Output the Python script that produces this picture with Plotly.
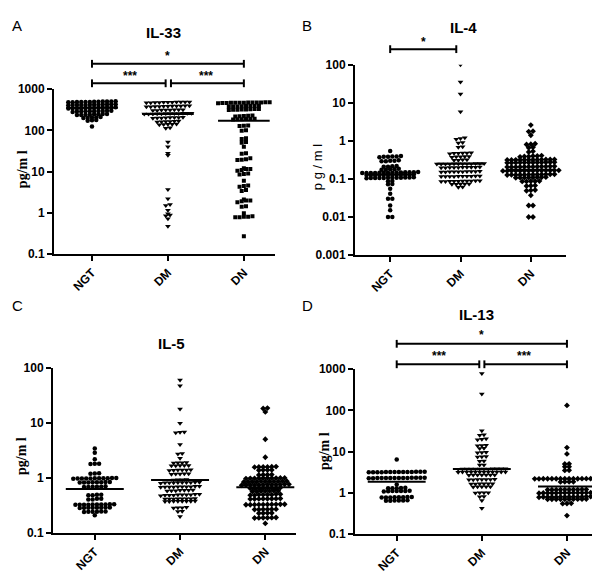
import math
import plotly.graph_objects as go

W, H = 600, 575
groups = ["NGT", "DM", "DN"]

# ---------------- data (pg/ml) ----------------
A_NGT = [510, 505, 500, 500, 495, 495, 490, 490, 485, 485, 480, 480,
         430, 430, 425, 425, 420, 420, 420, 415, 415, 410, 410, 405,
         365, 360, 360, 355, 355, 350, 350, 350, 345, 345, 340, 340,
         300, 300, 295, 295, 290, 290, 290, 285, 285, 280,
         250, 250, 245, 245, 240, 240, 235, 235,
         210, 205, 205, 200, 200,
         178, 175, 170,
         125]
A_DM = [490, 490, 485, 485, 480, 480, 480, 475, 475, 470, 470,
        395, 395, 390, 390, 390, 385, 385, 380, 380, 375, 375,
        318, 315, 315, 312, 310, 310, 305, 305,
        262, 260, 260, 258, 258, 255, 255, 252, 252, 250, 250, 248,
        208, 206, 205, 204, 202, 200, 200, 198,
        168, 166, 165, 164, 162, 160,
        142, 140, 140, 138, 136,
        115, 112,
        52, 40, 28, 25,
        3.7, 2.2, 1.6, 1.5, 1.15, 0.95, 0.88, 0.85, 0.72, 0.47]
A_DN = [480, 478, 476, 475, 474, 472, 470, 468, 466, 465, 462, 460, 458,
        395, 392, 390, 388, 385, 382, 380, 378,
        330, 328, 325, 322, 320, 318, 315, 312,
        228, 225, 222, 220, 218,
        192, 190, 188, 186, 185, 184,
        132, 130, 128,
        100, 98,
        64, 62,
        52, 50,
        40,
        28, 27,
        21, 20, 19.5, 19,
        12, 11.5, 11.5, 11, 10.5,
        9, 8.7, 8.5,
        6,
        4.6, 4.5, 4.3,
        3.6, 3.4,
        2.1, 2.0, 2.0, 1.9, 1.8,
        1.45, 1.4,
        0.97,
        0.82, 0.8, 0.8, 0.78, 0.78,
        0.27]

B_NGT = [0.54,
         0.40, 0.39, 0.39, 0.38, 0.38, 0.37,
         0.31, 0.30, 0.30, 0.29, 0.29,
         0.22, 0.215, 0.21, 0.21,
         0.185, 0.18, 0.18, 0.175, 0.175,
         0.152, 0.15, 0.15, 0.15, 0.148, 0.148, 0.146, 0.146, 0.145, 0.145, 0.144, 0.144, 0.143, 0.142,
         0.132, 0.131, 0.130, 0.130, 0.129, 0.129, 0.128, 0.128, 0.127, 0.127, 0.126, 0.126,
         0.110, 0.109, 0.109, 0.108, 0.108, 0.107, 0.107, 0.106, 0.106, 0.105, 0.105, 0.104,
         0.088, 0.087,
         0.073, 0.072,
         0.055,
         0.041,
         0.030, 0.030,
         0.020,
         0.015,
         0.010, 0.010]
B_DM = [100, 35, 17, 5.8,
        1.2, 1.15, 1.1,
        0.9, 0.88,
        0.7, 0.68,
        0.49, 0.48, 0.48, 0.47, 0.47, 0.46,
        0.39, 0.39, 0.38, 0.38, 0.37,
        0.32, 0.32, 0.31, 0.31,
        0.255, 0.254, 0.253, 0.252, 0.251, 0.25, 0.25, 0.249, 0.248, 0.247, 0.246, 0.245,
        0.205, 0.204, 0.203, 0.202, 0.201, 0.2, 0.199, 0.198, 0.197, 0.196,
        0.158, 0.157, 0.156, 0.156, 0.155, 0.155, 0.154, 0.154, 0.153, 0.152,
        0.119, 0.119, 0.118, 0.118, 0.117, 0.117, 0.116, 0.116, 0.115, 0.115,
        0.089, 0.089, 0.088, 0.088, 0.088, 0.087, 0.087, 0.087, 0.086, 0.086,
        0.074, 0.073, 0.073, 0.072, 0.072,
        0.061, 0.060]
B_DN = [2.6, 1.8, 1.75, 1.4,
        0.84, 0.82, 0.8,
        0.68, 0.66,
        0.53, 0.51,
        0.41, 0.40, 0.40, 0.39, 0.39, 0.38,
        0.325, 0.324, 0.323, 0.322, 0.321, 0.32, 0.32, 0.319, 0.318, 0.317, 0.316, 0.315,
        0.275, 0.274, 0.273, 0.272, 0.271, 0.27, 0.27, 0.269, 0.268, 0.267, 0.266, 0.265,
        0.215, 0.214, 0.213, 0.212, 0.211, 0.21, 0.21, 0.209, 0.208, 0.207, 0.206, 0.205,
        0.168, 0.168, 0.167, 0.167, 0.166, 0.166, 0.165, 0.165, 0.164, 0.164, 0.163, 0.163, 0.162, 0.162,
        0.133, 0.132, 0.132, 0.131, 0.131, 0.130, 0.130, 0.129, 0.129, 0.128, 0.128, 0.127,
        0.111, 0.110, 0.110, 0.109, 0.109, 0.108, 0.108, 0.107,
        0.088, 0.087, 0.087, 0.086, 0.086,
        0.067, 0.066, 0.065,
        0.051, 0.050, 0.049,
        0.037,
        0.020, 0.020,
        0.010, 0.010]

C_NGT = [3.45, 2.9, 2.2, 1.83, 1.82, 1.8,
         1.22, 1.21, 1.2,
         1.0, 1.0, 0.99, 0.99, 0.99, 0.99, 0.98, 0.98, 0.98, 0.98, 0.97,
         0.85, 0.85, 0.84, 0.84, 0.84, 0.83, 0.83, 0.83,
         0.71, 0.70, 0.70, 0.70, 0.69, 0.69,
         0.50, 0.50, 0.49, 0.49,
         0.42, 0.42, 0.41, 0.41,
         0.335, 0.333, 0.332, 0.331, 0.33, 0.33, 0.329, 0.328, 0.327, 0.326,
         0.292, 0.291, 0.29, 0.29, 0.289, 0.288, 0.287, 0.286,
         0.247, 0.246, 0.245, 0.245, 0.244, 0.243,
         0.21]
C_DM = [61, 48, 18, 10,
        6.9, 6.8, 6.7,
        4.1,
        2.8, 2.75,
        2.3,
        1.92, 1.9, 1.9, 1.88,
        1.7, 1.7, 1.69, 1.68, 1.68,
        1.42, 1.41, 1.4, 1.4, 1.39, 1.38,
        1.2, 1.2, 1.19, 1.19, 1.18,
        0.94, 0.93, 0.93, 0.92,
        0.84, 0.84, 0.83, 0.83, 0.83, 0.83, 0.82, 0.82, 0.82, 0.81,
        0.71, 0.71, 0.70, 0.70, 0.70, 0.70, 0.69, 0.69, 0.69, 0.68,
        0.61, 0.6, 0.6, 0.6, 0.59, 0.59, 0.58,
        0.51, 0.51, 0.5, 0.5, 0.5, 0.5, 0.49, 0.49, 0.49, 0.48,
        0.425, 0.423, 0.422, 0.42, 0.42, 0.418, 0.417, 0.415,
        0.382, 0.381, 0.38, 0.38, 0.379, 0.378, 0.377, 0.376,
        0.295, 0.29, 0.29, 0.285,
        0.25, 0.248,
        0.2]
C_DN = [18.8, 18.5, 16, 5.1, 2.4,
        1.62, 1.61, 1.6, 1.6, 1.59, 1.58,
        1.41, 1.4, 1.4, 1.39,
        1.16, 1.15, 1.15, 1.14,
        1.01, 1.01, 1.0, 1.0, 1.0, 1.0, 0.99, 0.99, 0.99, 0.98,
        0.88, 0.88, 0.87, 0.87, 0.87, 0.87, 0.87, 0.86, 0.86, 0.86, 0.85,
        0.77, 0.77, 0.76, 0.76, 0.76, 0.76, 0.76, 0.75, 0.75, 0.75, 0.75, 0.74,
        0.67, 0.66, 0.66, 0.66, 0.66, 0.65, 0.65, 0.65,
        0.59, 0.59, 0.58, 0.58, 0.58, 0.57, 0.57,
        0.51, 0.51, 0.5, 0.5, 0.5, 0.5, 0.49, 0.49,
        0.425, 0.423, 0.422, 0.42, 0.42, 0.418, 0.417, 0.415,
        0.335, 0.334, 0.333, 0.332, 0.331, 0.33, 0.33, 0.329, 0.328, 0.327,
        0.272, 0.271, 0.27, 0.27, 0.269, 0.268,
        0.232, 0.231, 0.23, 0.229,
        0.192, 0.191, 0.19, 0.19, 0.189, 0.188,
        0.15]

D_NGT = [6.4,
         3.25, 3.24, 3.23, 3.22, 3.21, 3.2, 3.2, 3.2, 3.19, 3.18, 3.17, 3.16, 3.15, 3.15,
         2.33, 2.32, 2.31, 2.31, 2.3, 2.3, 2.3, 2.3, 2.29, 2.29, 2.28, 2.28, 2.27, 2.27,
         1.6,
         1.32, 1.31, 1.3, 1.3, 1.29,
         1.12, 1.11, 1.1, 1.1, 1.1, 1.09, 1.08,
         0.79, 0.79, 0.78, 0.78, 0.78, 0.77, 0.77, 0.77,
         0.66, 0.65, 0.65, 0.65, 0.64, 0.64]
D_DM = [790, 250, 32,
        25.5, 25,
        20.5, 20, 19.5,
        14.2, 14, 13.8,
        12.1, 11.9,
        9.6, 9.5, 9.4,
        7.6, 7.5, 7.4,
        5.9, 5.8,
        4.75, 4.7,
        3.85, 3.84, 3.83, 3.82, 3.81, 3.8, 3.8, 3.79, 3.78, 3.77, 3.76, 3.75,
        3.22, 3.21, 3.21, 3.2, 3.2, 3.2, 3.2, 3.19, 3.19, 3.18, 3.18, 3.17,
        2.72, 2.71, 2.7, 2.7, 2.7, 2.69, 2.68,
        2.12, 2.11, 2.1, 2.1, 2.1, 2.09, 2.08,
        1.66, 1.66, 1.65, 1.65, 1.64, 1.64,
        1.41, 1.4, 1.4, 1.4, 1.39,
        1.01, 1.0, 1.0, 0.99,
        0.81, 0.8,
        0.65, 0.42]
D_DN = [132, 12.5, 8.8,
        5.05, 5.0,
        4.32, 4.3,
        3.52, 3.5,
        2.22, 2.22, 2.21, 2.21, 2.21, 2.2, 2.2, 2.2, 2.2, 2.2, 2.2, 2.19, 2.19, 2.19, 2.18, 2.18,
        1.86, 1.85, 1.85, 1.84,
        1.21, 1.21, 1.2, 1.2, 1.2, 1.2, 1.2, 1.19, 1.19, 1.19,
        1.01, 1.01, 1.01, 1.0, 1.0, 1.0, 1.0, 1.0, 1.0, 0.99, 0.99, 0.99, 0.99, 0.98,
        0.81, 0.81, 0.81, 0.8, 0.8, 0.8, 0.8, 0.8, 0.8, 0.79, 0.79, 0.79, 0.79, 0.78,
        0.705, 0.703, 0.702, 0.701, 0.70, 0.70, 0.699, 0.698, 0.697, 0.695,
        0.555, 0.55, 0.545,
        0.28]

# median lines
A_MED = [355, 250, 172]
B_MED = [0.13, 0.25, 0.175]
C_MED = [0.635, 0.92, 0.68]
D_MED = [1.85, 3.8, 1.43]

A_TICKS = [0.1, 1, 10, 100, 1000]
A_TICKTEXT = ["0.1", "1", "10", "100", "1000"]
B_TICKS = [0.001, 0.01, 0.1, 1, 10, 100]
B_TICKTEXT = ["0.001", "0.01", "0.1", "1", "10", "100"]
C_TICKS = [0.1, 1, 10, 100]
C_TICKTEXT = ["0.1", "1", "10", "100"]
D_TICKS = [0.1, 1, 10, 100, 1000]
D_TICKTEXT = ["0.1", "1", "10", "100", "1000"]

TITLES = ["IL-33", "IL-4", "IL-5", "IL-13"]
LETTERS = ["A", "B", "C", "D"]

# ---------------- layout helpers ----------------
def px_x(p):
    return p / W

def px_y(p):
    return 1 - p / H

panels = [
    dict(data=[A_NGT, A_DM, A_DN], med=A_MED, ticks=A_TICKS, ticktext=A_TICKTEXT,
         dx=(46, 267), dy=(76, 245), xr=(-0.5, 2.41), yr=(-1, 3),
         sym=["circle", "triangle-down", "square"],
         title=(155, 18), letter=(9, 11), ylab=(14, 158), ylabtxt="pg/m l", serif=True),
    dict(data=[B_NGT, B_DM, B_DN], med=B_MED, ticks=B_TICKS, ticktext=B_TICKTEXT,
         dx=(347, 558), dy=(51, 246), xr=(-0.5, 2.5), yr=(-3, 2),
         sym=["circle", "triangle-down", "diamond"],
         title=(455, 13), letter=(299, 11), ylab=(309, 156), ylabtxt="p g / m l", serif=False),
    dict(data=[C_NGT, C_DM, C_DN], med=C_MED, ticks=C_TICKS, ticktext=C_TICKTEXT,
         dx=(45, 288), dy=(362, 531), xr=(-0.49, 2.36), yr=(-1, 2),
         sym=["circle", "triangle-down", "diamond"],
         title=(163, 337), letter=(9, 298), ylab=(14, 452), ylabtxt="pg/m l", serif=True),
    dict(data=[D_NGT, D_DM, D_DN], med=D_MED, ticks=D_TICKS, ticktext=D_TICKTEXT,
         dx=(347, 593), dy=(363, 532), xr=(-0.49, 2.4), yr=(-1, 3),
         sym=["circle", "triangle-down", "diamond"],
         title=(468, 307), letter=(299, 298), ylab=(316, 447), ylabtxt="pg/m l", serif=True),
]

def swarm(vals, center, px_dec, px_unit, thr=2.0, gap=4.3):
    rows = []
    for v in sorted(vals):
        p = math.log10(v) * px_dec
        if rows and abs(p - rows[-1][0]) <= thr:
            rows[-1][1].append(v)
        else:
            rows.append([p, [v]])
    xs, ys = [], []
    for _, row in rows:
        n = len(row)
        for i, v in enumerate(row):
            xs.append(center + (i - (n - 1) / 2) * gap / px_unit)
            ys.append(v)
    return xs, ys

fig = go.Figure()
layout = dict(width=W, height=H, margin=dict(l=0, r=0, t=0, b=0),
              paper_bgcolor="white", plot_bgcolor="white", showlegend=False,
              hovermode=False)
shapes, annotations = [], []
FONT = "Arial, Liberation Sans, sans-serif"

for k, pn in enumerate(panels):
    sfx = "" if k == 0 else str(k + 1)
    xa, ya = "x" + sfx, "y" + sfx
    px_unit = (pn["dx"][1] - pn["dx"][0]) / (pn["xr"][1] - pn["xr"][0])
    px_dec = (pn["dy"][1] - pn["dy"][0]) / (pn["yr"][1] - pn["yr"][0])
    for gi, vals in enumerate(pn["data"]):
        xs, ys = swarm(vals, gi, px_dec, px_unit)
        sym = pn["sym"][gi]
        size = 5 if sym == "triangle-down" else (4 if sym == "square" else 4.5)
        fig.add_trace(go.Scatter(x=xs, y=ys, mode="markers", xaxis=xa, yaxis=ya,
                                 marker=dict(symbol=sym, size=size, color="black",
                                             line=dict(width=0))))
        m = pn["med"][gi]
        fig.add_trace(go.Scatter(x=[gi - 0.34, gi + 0.34], y=[m, m], mode="lines",
                                 xaxis=xa, yaxis=ya, line=dict(color="black", width=2)))
    axis_common = dict(showline=True, linecolor="black", linewidth=2, ticks="outside",
                       ticklen=5, tickwidth=2, tickcolor="black", showgrid=False,
                       zeroline=False, mirror=False,
                       tickfont=dict(family=FONT, size=12, color="black", weight="bold"))
    layout["xaxis" + sfx] = dict(axis_common, domain=[px_x(pn["dx"][0]), px_x(pn["dx"][1])],
                                 range=list(pn["xr"]), anchor=ya, tickmode="array",
                                 tickvals=[0, 1, 2], ticktext=groups, tickangle=-45,
                                 tickfont=dict(family=FONT, size=12, color="black", weight="bold"))
    layout["yaxis" + sfx] = dict(axis_common, domain=[px_y(pn["dy"][1]), px_y(pn["dy"][0])],
                                 type="log", range=list(pn["yr"]), anchor=xa,
                                 tickmode="array", tickvals=pn["ticks"], ticktext=pn["ticktext"])
    annotations.append(dict(text=TITLES[k], x=px_x(pn["title"][0]), y=px_y(pn["title"][1]),
                            xref="paper", yref="paper", showarrow=False, xanchor="center",
                            yanchor="middle", font=dict(family=FONT, size=15, color="black",
                                                        weight="bold")))
    annotations.append(dict(text=LETTERS[k], x=px_x(pn["letter"][0]), y=px_y(pn["letter"][1]),
                            xref="paper", yref="paper", showarrow=False, xanchor="center",
                            yanchor="middle", font=dict(family=FONT, size=15, color="black")))
    if pn["serif"]:
        lf = dict(family="Liberation Serif, Times New Roman, serif", size=14, color="black",
                  weight="bold")
    else:
        lf = dict(family=FONT, size=13, color="black")
    annotations.append(dict(text=pn["ylabtxt"], x=px_x(pn["ylab"][0]), y=px_y(pn["ylab"][1]),
                            xref="paper", yref="paper", showarrow=False, textangle=-90,
                            xanchor="center", yanchor="middle", font=lf))

# significance bars: (panel, x0, x1, y_px, label, label_x, label_y_px)
SIG = [
    (0, 0, 2, 50, "*", 1, 42),
    (0, 0, 0.97, 70, "***", 0.5, 63),
    (0, 1.04, 2, 70, "***", 1.5, 63),
    (1, 0, 0.94, 35, "*", 0.48, 28),
    (3, 0, 2, 337, "*", 1, 328),
    (3, 0, 0.97, 358, "***", 0.5, 350),
    (3, 1.03, 2, 358, "***", 1.5, 350),
]
for (k, x0, x1, ypx, lab, lx, lypx) in SIG:
    sfx = "" if k == 0 else str(k + 1)
    xr = "x" + sfx
    ln = dict(color="black", width=2)
    shapes.append(dict(type="line", xref=xr, yref="paper", x0=x0, x1=x1,
                       y0=px_y(ypx), y1=px_y(ypx), line=ln))
    for xe in (x0, x1):
        shapes.append(dict(type="line", xref=xr, yref="paper", x0=xe, x1=xe,
                           y0=px_y(ypx - 4), y1=px_y(ypx + 4), line=ln))
    annotations.append(dict(text=lab, x=lx, y=px_y(lypx), xref=xr, yref="paper",
                            showarrow=False, xanchor="center", yanchor="middle",
                            font=dict(family=FONT, size=12, color="black", weight="bold")))

layout["shapes"] = shapes
layout["annotations"] = annotations
fig.update_layout(**layout)
fig.write_html("out.html")
